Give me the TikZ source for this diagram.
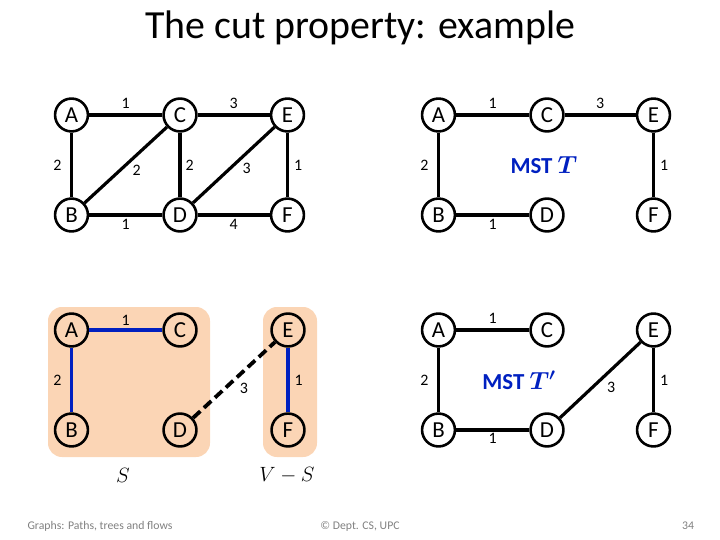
\documentclass[tikz,border=0pt]{standalone}
\usepackage{fontspec}
\setmainfont{Carlito}
\usepackage{xcolor}
\usepackage{tikz}
\usetikzlibrary{positioning}
\definecolor{mstblue}{RGB}{0,32,192}
\definecolor{cutfill}{RGB}{251,213,181}
\definecolor{footgray}{RGB}{128,128,128}
\tikzset{
  vtx/.style={draw, circle, line width=2.6pt, minimum size=33pt, inner sep=0pt, font=\fontsize{23}{23}\selectfont},
  wt/.style={font=\fontsize{16}{16}\selectfont, inner sep=1.5pt},
  gedge/.style={line width=3.2pt},
  treeedge/.style={line width=3.2pt, draw=mstblue},
  cutedge/.style={line width=3.8pt, dash pattern=on 10pt off 5pt},
  cutregion/.style={fill=cutfill, rounded corners=14pt},
  mstlabel/.style={font=\fontsize{23}{23}\selectfont\bfseries, text=mstblue},
  foot/.style={font=\fontsize{11.8}{12}\selectfont, text=footgray}
}

\begin{document}
\begin{tikzpicture}[x=1bp,y=-1bp]
\useasboundingbox (0,0) rectangle (720,540);
\node[font=\fontsize{40}{40}\selectfont] (title) at (360,28) {The cut property: example};

% graph G
\node[vtx] (a1) at (71.5,115) {A};
\node[vtx] (c1) at (180,115) {C};
\node[vtx] (e1) at (287.5,115) {E};
\node[vtx] (b1) at (71.5,215) {B};
\node[vtx] (d1) at (180,215) {D};
\node[vtx] (f1) at (287.5,215) {F};
\draw[gedge] (a1) -- node[wt,above=3pt] {1} (c1);
\draw[gedge] (c1) -- node[wt,above=3pt] {3} (e1);
\draw[gedge] (a1) -- node[wt,left=7pt] {2} (b1);
\draw[gedge] (b1) -- node[wt,xshift=11pt,yshift=-5pt] {2} (c1);
\draw[gedge] (c1) -- node[wt,right=2.5pt] {2} (d1);
\draw[gedge] (d1) -- node[wt,xshift=13pt,yshift=-3pt] {3} (e1);
\draw[gedge] (e1) -- node[wt,right=3.5pt] {1} (f1);
\draw[gedge] (b1) -- node[wt,below=1pt] {1} (d1);
\draw[gedge] (d1) -- node[wt,below=1pt] {4} (f1);

% MST T
\node[vtx] (a2) at (438.5,115) {A};
\node[vtx] (c2) at (547,115) {C};
\node[vtx] (e2) at (653.5,115) {E};
\node[vtx] (b2) at (438.5,215) {B};
\node[vtx] (d2) at (547,215) {D};
\node[vtx] (f2) at (653.5,215) {F};
\draw[gedge] (a2) -- node[wt,above=3pt] {1} (c2);
\draw[gedge] (c2) -- node[wt,above=3pt] {3} (e2);
\draw[gedge] (a2) -- node[wt,left=7pt] {2} (b2);
\draw[gedge] (e2) -- node[wt,right=3.5pt] {1} (f2);
\draw[gedge] (b2) -- node[wt,below=1pt] {1} (d2);
\node[mstlabel] (mstt) at (544,165) {MST {\boldmath$T$}};

% the cut (S, V-S)
\fill[cutregion] (48,307) rectangle (210,457);
\fill[cutregion] (263,307) rectangle (317,457);
\node[vtx] (a3) at (71.5,330) {A};
\node[vtx] (c3) at (180,330) {C};
\node[vtx] (e3) at (288,330) {E};
\node[vtx] (b3) at (71.5,430) {B};
\node[vtx] (d3) at (180,430) {D};
\node[vtx] (f3) at (288,430) {F};
\draw[treeedge] (a3) -- node[wt,above=1.5pt] {1} (c3);
\draw[treeedge] (a3) -- node[wt,left=7pt] {2} (b3);
\draw[treeedge] (e3) -- node[wt,right=3.5pt] {1} (f3);
\draw[cutedge] (d3) -- node[wt,xshift=10pt,yshift=-8pt] {3} (e3);
\node[font=\fontsize{22}{22}\selectfont] (sset) at (123,475) {$S$};
\node[font=\fontsize{22}{22}\selectfont] (rest) at (287,475) {$V-S$};

% MST T'
\node[vtx] (a4) at (438.5,330) {A};
\node[vtx] (c4) at (547,330) {C};
\node[vtx] (e4) at (653.5,330) {E};
\node[vtx] (b4) at (438.5,430) {B};
\node[vtx] (d4) at (547,430) {D};
\node[vtx] (f4) at (653.5,430) {F};
\draw[gedge] (a4) -- node[wt,above=3pt] {1} (c4);
\draw[gedge] (a4) -- node[wt,left=7pt] {2} (b4);
\draw[gedge] (d4) -- node[wt,xshift=11pt,yshift=-7pt] {3} (e4);
\draw[gedge] (e4) -- node[wt,right=3.5pt] {1} (f4);
\draw[gedge] (b4) -- node[wt,below=0pt] {1} (d4);
\node[mstlabel] (msttp) at (519,380) {MST {\boldmath$T'$}};

% footer
\node[foot] (course) at (100,526) {Graphs: Paths, trees and flows};
\node[foot] (dept) at (360,526) {© Dept. CS, UPC};
\node[foot] (page) at (688,526) {34};
\end{tikzpicture}
\end{document}
